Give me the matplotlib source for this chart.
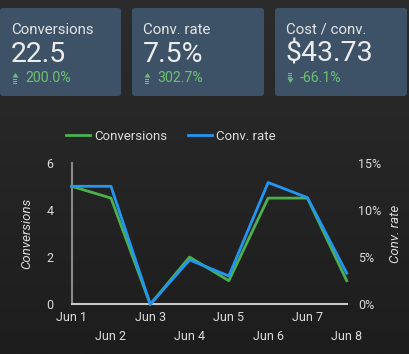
import numpy as np
import matplotlib
matplotlib.use("Agg")
import matplotlib.pyplot as plt
from matplotlib.patches import FancyBboxPatch, Polygon, Rectangle

plt.rcParams['font.family'] = ['Roboto', 'DejaVu Sans']

# scorecards
card_titles = ["Conversions", "Conv. rate", "Cost / conv."]
card_values = ["22.5", "7.5%", "$43.73"]
card_deltas = ["200.0%", "302.7%", "-66.1%"]
card_up = [True, True, False]

# daily series
days = ["Jun 1", "Jun 2", "Jun 3", "Jun 4", "Jun 5", "Jun 6", "Jun 7", "Jun 8"]
conversions = [5, 4.5, 0, 2, 1, 4.5, 4.5, 1]
conv_rate = [12.5, 12.5, 0, 4.7, 3.0, 12.9, 11.3, 3.3]

W, H = 410, 354
fig = plt.figure(figsize=(W / 100, H / 100), dpi=100)

# background layer in pixel units
bg = fig.add_axes([0, 0, 1, 1])
bg.set_xlim(0, W)
bg.set_ylim(H, 0)
bg.axis("off")
grad = np.linspace(0, 1, 256).reshape(-1, 1)
top = np.array([0x2c, 0x2c, 0x2c]) / 255
bot = np.array([0x1d, 0x1d, 0x1d]) / 255
img = top + (bot - top) * grad[:, :, None]
bg.imshow(img, extent=[0, W, H, 0], aspect="auto", zorder=0)

card_x = [0, 132, 275]
card_w = [121, 132, 132]
green = "#6cc16f"
for i in range(3):
    x0 = card_x[i]
    bg.add_patch(FancyBboxPatch((x0 + 2, 10), card_w[i] - 4, 84,
                                boxstyle="round,pad=2,rounding_size=3",
                                fc="#3d5267", ec="none", zorder=1))
    tx = x0 + 11
    bg.text(tx, 33.5, card_titles[i], color="#e4e4e4", fontsize=10.8,
            ha="left", va="baseline", zorder=2)
    bg.text(tx, 62, card_values[i], color="#ececec", fontsize=20.5,
            ha="left", va="baseline", zorder=2)
    bg.text(tx + 14, 81.5, card_deltas[i], color=green, fontsize=10.2,
            ha="left", va="baseline", zorder=2)
    # little arrow icon
    ax0 = tx + 1.5
    if card_up[i]:
        bg.add_patch(Polygon([[ax0, 77.5], [ax0 + 6, 77.5], [ax0 + 3, 73]],
                             fc=green, ec="none", zorder=2))
        for yy in (78.5, 80.5, 82.5):
            bg.add_patch(Rectangle((ax0 + 1, yy), 4, 1.4, fc=green, ec="none", zorder=2))
    else:
        for yy in (72.5, 74.5, 76.5):
            bg.add_patch(Rectangle((ax0 + 1, yy), 4, 1.4, fc=green, ec="none", zorder=2))
        bg.add_patch(Polygon([[ax0, 78.5], [ax0 + 6, 78.5], [ax0 + 3, 83]],
                             fc=green, ec="none", zorder=2))

# chart
ax = fig.add_axes([71.7 / W, 1 - 304.3 / H, 275 / W, 141.6 / H])
ax.patch.set_alpha(0)
ax2 = ax.twinx()
x = np.arange(len(days))
l1, = ax.plot(x, conversions, color="#4caf50", lw=2, clip_on=False, zorder=3)
l2, = ax2.plot(x, conv_rate, color="#2196f3", lw=2, clip_on=False, zorder=4)

ax.set_xlim(0, len(days) - 1)
ax.set_ylim(0, 6)
ax.set_yticks([0, 2, 4, 6])
ax2.set_ylim(0, 15)
ax2.set_yticks([0, 5, 10, 15])
ax2.set_yticklabels([f"{v}%" for v in [0, 5, 10, 15]])

ax.set_xticks(x)
ax.set_xticklabels(days)

tick_col = "#dcdcdc"
for a in (ax, ax2):
    for s in a.spines.values():
        s.set_visible(False)
    a.tick_params(length=0, labelsize=9, colors=tick_col)
ax.spines["left"].set_visible(True)
ax.spines["left"].set_color("#8a8a8a")
ax.spines["left"].set_linewidth(1.5)
ax.spines["bottom"].set_visible(True)
ax.spines["bottom"].set_color("#c8c8c8")
ax.spines["bottom"].set_linewidth(1.5)
ax.tick_params(axis="y", pad=13)
ax2.tick_params(axis="y", pad=8)
# staggered date labels
for i, t in enumerate(ax.xaxis.get_major_ticks()):
    t.set_pad(5 if i % 2 == 0 else 18.5)

ax.set_ylabel("Conversions", color=tick_col, fontsize=9.5, style="italic", labelpad=9.5)
ax2.set_ylabel("Conv. rate", color=tick_col, fontsize=9.5, style="italic", labelpad=6)

fig.legend([l1, l2], ["Conversions", "Conv. rate"], loc="center",
           bbox_to_anchor=(171 / W, 1 - 136 / H), ncol=2, frameon=False,
           fontsize=9.5, labelcolor=tick_col, handlelength=1.8,
           handletextpad=0.3, columnspacing=1.6)

fig.savefig("out.png", dpi=100, facecolor="#262626")
